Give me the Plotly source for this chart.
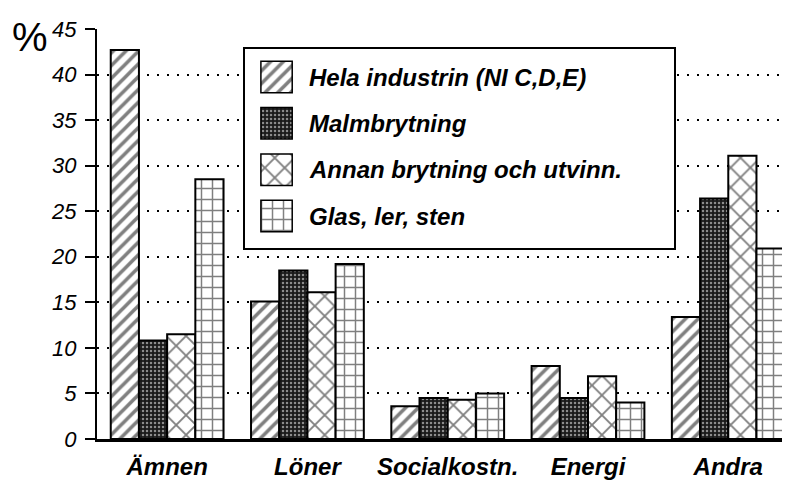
import plotly.graph_objects as go

categories = ["Ämnen", "Löner", "Socialkostn.", "Energi", "Andra"]
series = ["Hela industrin (NI C,D,E)", "Malmbrytning",
          "Annan brytning och utvinn.", "Glas, ler, sten"]
hela = [42.7, 15.1, 3.6, 8.0, 13.4]
malm = [10.8, 18.5, 4.5, 4.5, 26.4]
annan = [11.5, 16.1, 4.3, 6.9, 31.1]
glas = [28.5, 19.2, 5.0, 4.0, 20.9]
ytick_vals = [0, 5, 10, 15, 20, 25, 30, 35, 40, 45]

values = [hela, malm, annan, glas]
patterns = [
    dict(shape="/", size=9, solidity=0.4, fgcolor="black", bgcolor="white"),
    dict(shape=".", size=4, solidity=0.3, fgcolor="white", bgcolor="#1a1a1a"),
    dict(shape="x", size=14, solidity=0.25, fgcolor="black", bgcolor="white"),
    dict(shape="+", size=11, solidity=0.25, fgcolor="black", bgcolor="white"),
]

font = "Liberation Sans, Arial, sans-serif"

fig = go.Figure()
for name, vals, pat in zip(series, values, patterns):
    fig.add_trace(go.Bar(
        x=categories, y=vals, name=name,
        marker=dict(color="white", pattern=pat,
                    line=dict(color="black", width=2)),
        showlegend=False,
    ))

# hand-made legend box: a small subplot lying over the main one
fig.add_trace(go.Bar(
    x=[0.073] * 4, base=0.037, y=series, orientation="h", width=0.68,
    xaxis="x2", yaxis="y2", showlegend=False, cliponaxis=False,
    marker=dict(
        color="white",
        pattern=dict(
            shape=[p["shape"] for p in patterns],
            size=[p["size"] for p in patterns],
            solidity=[p["solidity"] for p in patterns],
            fgcolor=[p["fgcolor"] for p in patterns],
            bgcolor=[p["bgcolor"] for p in patterns],
        ),
        line=dict(color="black", width=1.5),
    ),
))

legend_labels = [dict(text=s, xref="x2", yref="y2", x=0.145, y=s,
                      xanchor="left", yanchor="middle", showarrow=False,
                      font=dict(size=24, style="italic", weight="bold"))
                 for s in series]

fig.update_layout(
    width=790, height=481,
    # page body has an 8px margin, so the plot area is shifted back by it
    margin=dict(l=89, r=8, t=21, b=50),
    paper_bgcolor="white", plot_bgcolor="white",
    barmode="group", bargap=0.196, bargroupgap=0,
    font=dict(family=font, color="black"),
    xaxis=dict(
        range=[-0.5, 4.44], showline=True, linecolor="black", linewidth=3,
        ticks="", showgrid=False, zeroline=False, automargin=False,
        tickfont=dict(size=24, style="italic", weight="bold"),
        ticklabelstandoff=4,
    ),
    yaxis=dict(
        range=[0, 45], tickvals=ytick_vals, showline=True, linecolor="black",
        linewidth=2, ticks="outside", ticklen=10, tickwidth=2,
        tickcolor="black", showgrid=True, gridcolor="black", gridwidth=1.5,
        griddash="2px,8px", zeroline=False, automargin=False,
        tickfont=dict(size=22, style="italic"), ticklabelstandoff=4,
    ),
    xaxis2=dict(domain=[0.2136, 0.8326], range=[0, 1], anchor="y2",
                showticklabels=False, ticks="", showgrid=False,
                zeroline=False, showline=True, mirror=True,
                linecolor="black", linewidth=2),
    yaxis2=dict(domain=[0.4659, 0.9512], anchor="x2", type="category",
                range=[3.69, -0.605], showticklabels=False, ticks="",
                showgrid=False, zeroline=False, showline=True, mirror=True,
                linecolor="black", linewidth=2),
    annotations=legend_labels + [
        dict(text="%", xref="paper", yref="paper", x=-0.097, y=0.98,
             xanchor="center", yanchor="middle", showarrow=False,
             font=dict(size=40))],
)

fig.write_html("out.html")
